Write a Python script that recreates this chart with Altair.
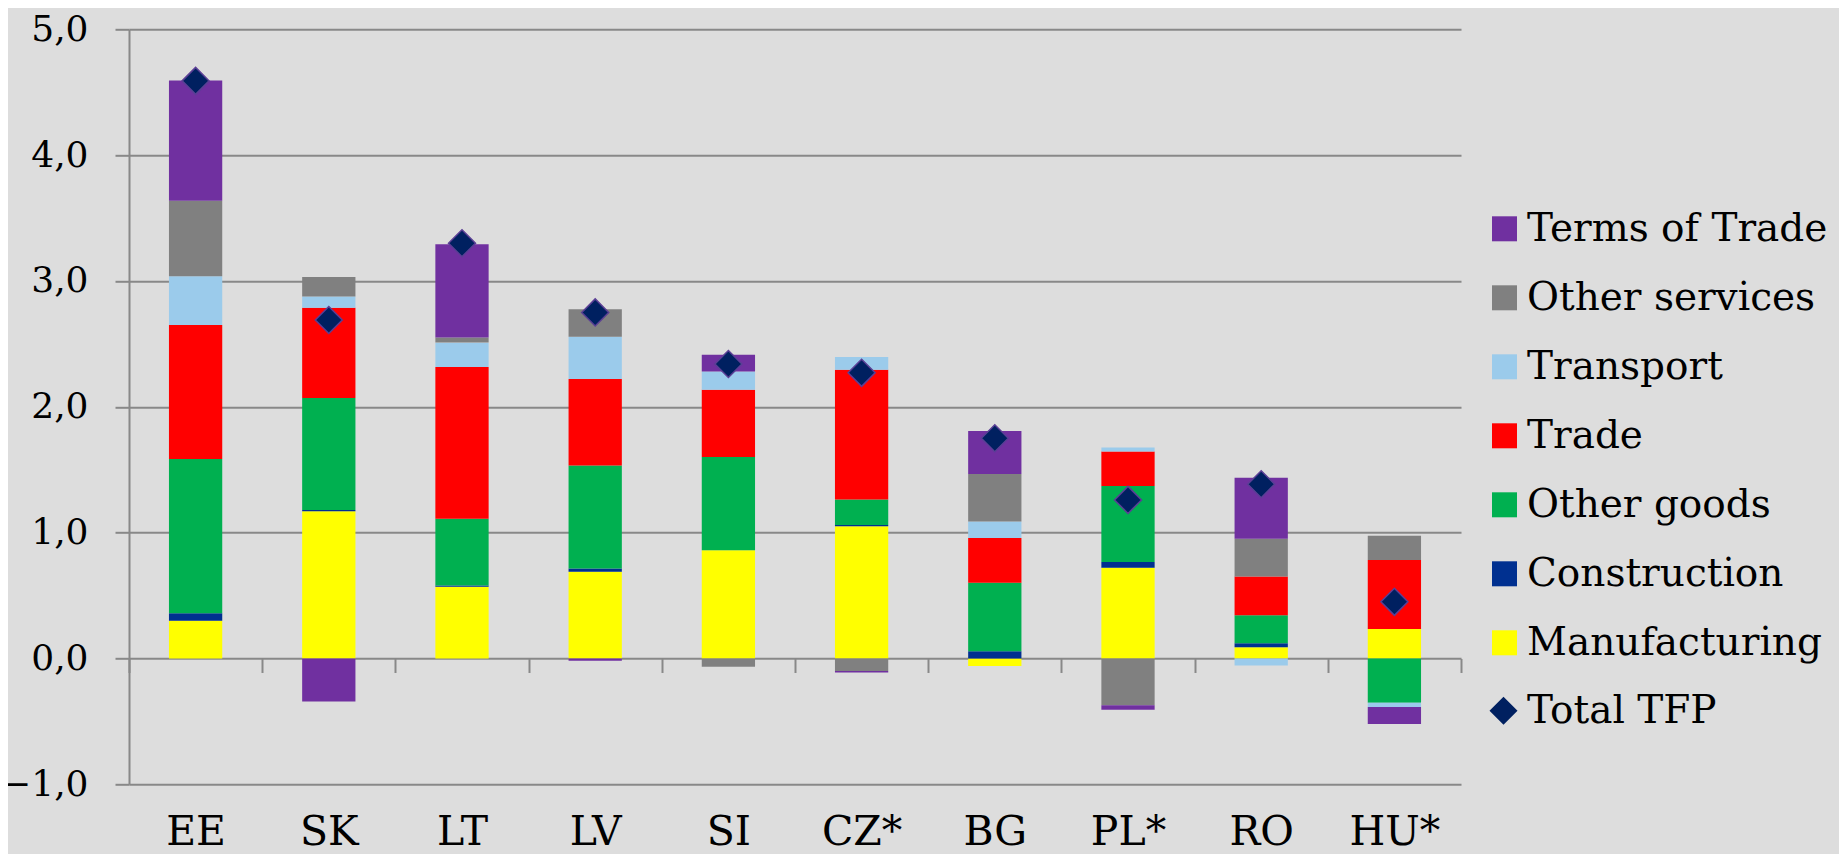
import altair as alt
import pandas as pd

countries = ["EE", "SK", "LT", "LV", "SI", "CZ*", "BG", "PL*", "RO", "HU*"]

manufacturing = [0.30, 1.17, 0.57, 0.69, 0.86, 1.05, -0.06, 0.72, 0.09, 0.235]
construction = [0.06, 0.01, 0.01, 0.024, 0.0, 0.01, 0.058, 0.047, 0.031, 0.0]
other_goods = [1.225, 0.89, 0.53, 0.82, 0.742, 0.204, 0.544, 0.603, 0.222, -0.351]
trade = [1.065, 0.718, 1.207, 0.687, 0.534, 1.03, 0.355, 0.275, 0.309, 0.547]
transport = [0.388, 0.088, 0.193, 0.336, 0.145, 0.101, 0.131, 0.031, -0.055, -0.035]
other_services = [0.60, 0.155, 0.04, 0.219, -0.066, -0.10, 0.378, -0.372, 0.299, 0.193]
terms_of_trade = [0.955, -0.341, 0.742, -0.018, 0.132, -0.012, 0.341, -0.035, 0.486, -0.135]
total_tfp = [4.59, 2.69, 3.30, 2.75, 2.34, 2.27, 1.75, 1.26, 1.385, 0.45]

series_names = ["Manufacturing", "Construction", "Other goods", "Trade",
                "Transport", "Other services", "Terms of Trade"]
series_values = [manufacturing, construction, other_goods, trade,
                 transport, other_services, terms_of_trade]
legend_order = ["Terms of Trade", "Other services", "Transport", "Trade",
                "Other goods", "Construction", "Manufacturing"]
legend_colors = ["#7030A0", "#808080", "#9BCBEB", "#FF0000",
                 "#00B050", "#003090", "#FFFF00"]

rows = []
for si, (name, vals) in enumerate(zip(series_names, series_values)):
    for c, v in zip(countries, vals):
        rows.append({"country": c, "series": name, "value": v, "idx": si})
bars_df = pd.DataFrame(rows)
tfp_df = pd.DataFrame({"country": countries, "value": total_tfp,
                       "label": ["Total TFP"] * len(countries)})

FONT = "DejaVu Serif"
FS_X = 41
FS_Y = 36
FS_L = 39
GRID = "#888888"
PLOT_H = 755

x_enc = alt.X(
    "country:N", sort=countries,
    scale=alt.Scale(paddingInner=0, paddingOuter=0),
    axis=alt.Axis(title=None, orient="bottom", offset=-PLOT_H / 6, domain=False,
                  ticks=True, tickBand="extent", tickSize=14, tickColor=GRID,
                  tickWidth=2, grid=False, labelAngle=0, labelFont=FONT,
                  labelFontSize=FS_X, labelColor="black", labelPadding=172.5,
                  labelBaseline="alphabetic"),
)
y_scale = alt.Scale(domain=[-1, 5], nice=False, zero=False)
y_axis = alt.Axis(title=None, values=[-1, 0, 1, 2, 3, 4, 5],
                  labelExpr="replace(format(datum.value, '.1f'), '.', ',')",
                  labelFont=FONT, labelFontSize=FS_Y, labelColor="black",
                  labelPadding=27, tickSize=14, tickColor=GRID, tickWidth=2,
                  domain=True, domainColor=GRID, domainWidth=2,
                  grid=True, gridColor=GRID, gridWidth=2)

bars = alt.Chart(bars_df).mark_bar(width=alt.RelativeBandSize(0.4)).encode(
    x=x_enc,
    y=alt.Y("value:Q", stack="zero", scale=y_scale, axis=y_axis),
    color=alt.Color("series:N",
                    scale=alt.Scale(domain=legend_order, range=legend_colors),
                    legend=alt.Legend(title=None, orient="none", legendX=1356,
                                      legendY=180, symbolType="square",
                                      symbolSize=625, symbolStrokeWidth=0,
                                      labelFont=FONT, labelFontSize=FS_L,
                                      labelColor="black", labelOffset=3,
                                      rowPadding=29, padding=0,
                                      labelLimit=600)),
    order=alt.Order("idx:Q", sort="ascending"),
)

points = alt.Chart(tfp_df).mark_point(
    filled=True, size=729, fill="#002060", stroke="#5B3F95",
    strokeWidth=1.5, opacity=1
).encode(
    x=alt.X("country:N", sort=countries),
    y=alt.Y("value:Q"),
    shape=alt.Shape("label:N",
                    scale=alt.Scale(domain=["Total TFP"], range=["diamond"]),
                    legend=alt.Legend(title=None, orient="none", legendX=1355,
                                      legendY=662, symbolSize=784,
                                      symbolFillColor="#002060",
                                      symbolStrokeColor="#5B3F95",
                                      symbolStrokeWidth=1.5,
                                      labelFont=FONT, labelFontSize=FS_L,
                                      labelColor="black", labelOffset=4,
                                      padding=0, labelLimit=600)),
)

chart = alt.layer(bars, points).resolve_legend(color="independent", shape="independent").properties(
    width=1332, height=PLOT_H,
    autosize=alt.AutoSizeParams(type="none"),
    padding={"left": 121, "top": 21.3, "right": 378, "bottom": 69.7},
    background="#DDDDDD",
).configure_view(stroke=None)

chart.save("out.html", embed_options={"renderer": "svg", "actions": False})
